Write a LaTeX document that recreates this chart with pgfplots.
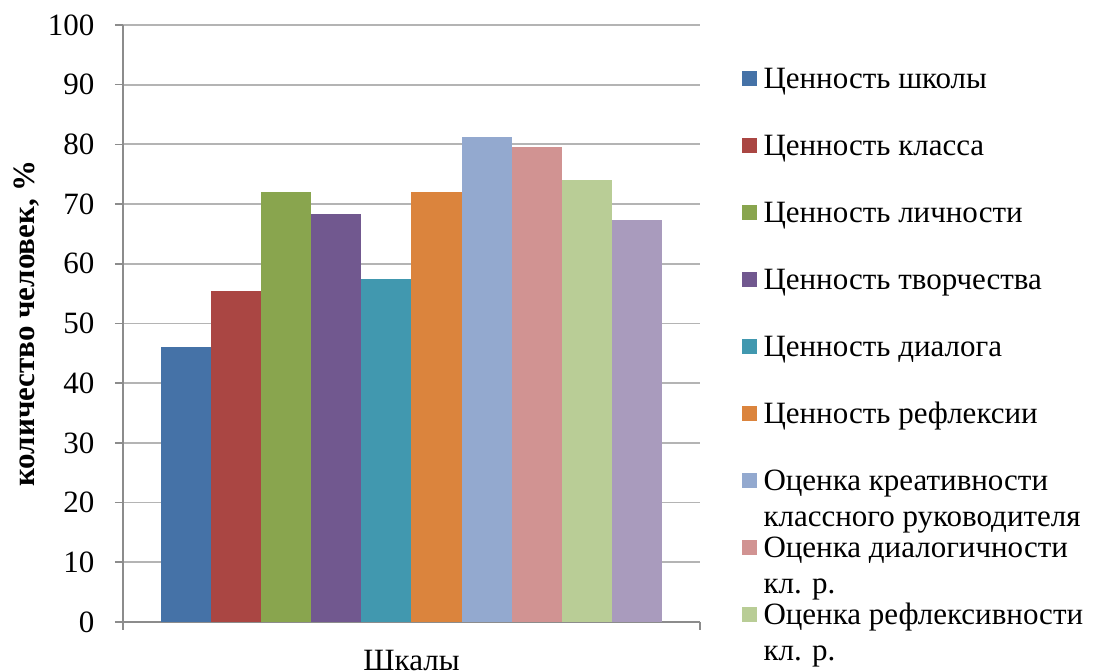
\documentclass[border=0pt]{standalone}
\usepackage{fontspec}
\setmainfont{Liberation Serif}
\usepackage{pgfplots}
\pgfplotsset{compat=1.18}

\definecolor{c1}{HTML}{4572A7}
\definecolor{c2}{HTML}{AA4643}
\definecolor{c3}{HTML}{89A54E}
\definecolor{c4}{HTML}{71588F}
\definecolor{c5}{HTML}{4198AF}
\definecolor{c6}{HTML}{DB843D}
\definecolor{c7}{HTML}{93A9CF}
\definecolor{c8}{HTML}{D19392}
\definecolor{c9}{HTML}{B9CD96}
\definecolor{c10}{HTML}{A99BBD}
\definecolor{gridgray}{HTML}{B4B4B4}
\definecolor{axisgray}{HTML}{8C8C8C}

% square legend keys instead of the default two thin bars
\pgfplotsset{/pgfplots/ybar legend/.style={/pgfplots/legend image code/.code={%
    \fill[##1] (0pt,-2.2pt) rectangle (7.25pt,5.3pt);}}}

\newcommand{\twoline}[2]{\begin{tabular}[t]{@{}l@{}}#1\\#2\end{tabular}}

\begin{document}
\fontsize{15.5}{18}\selectfont
\begin{tikzpicture}
\begin{axis}[
    name=ax,
    scale only axis,
    width=288.5pt, height=298.5pt,
    ybar=0pt, bar width=25.05pt,
    xmin=-0.5, xmax=0.5,
    ymin=0, ymax=100,
    ytick={0,10,...,100},
    xtick=\empty,
    extra x ticks={-0.5,0.5},
    extra x tick labels={},
    axis x line*=bottom,
    axis y line*=left,
    axis line style={draw=axisgray, line width=0.8pt, -},
    tick style={draw=axisgray, line width=0.8pt},
    tick align=outside,
    major tick length=4pt,
    ymajorgrids=true,
    grid style={gridgray, line width=0.9pt},
    /pgf/number format/assume math mode=true,
    yticklabel style={anchor=east, xshift=-5pt},
    ylabel={\bfseries количество человек, \%},
    every axis y label/.style={at={(axis description cs:-0.1664,0.5)}, rotate=90, anchor=center},
    xlabel={Шкалы},
    every axis x label/.style={at={(axis description cs:0.5,0)}, anchor=base, yshift=-24.5pt},
    legend cell align=left,
    legend style={at={(1,1)}, anchor=north west, xshift=21pt, yshift=-21.5pt,
        draw=none, fill=none, inner sep=0pt, outer sep=0pt,
        row sep=19.5pt, column sep=3.5pt,
        nodes={inner sep=0pt, text height=10.5pt, text depth=3.5pt}},
]
\addplot[fill=c1, draw=none] coordinates {(0,46.1)};
\addplot[fill=c2, draw=none] coordinates {(0,55.4)};
\addplot[fill=c3, draw=none] coordinates {(0,72.1)};
\addplot[fill=c4, draw=none] coordinates {(0,68.4)};
\addplot[fill=c5, draw=none] coordinates {(0,57.5)};
\addplot[fill=c6, draw=none] coordinates {(0,72.1)};
\addplot[fill=c7, draw=none] coordinates {(0,81.3)};
\addplot[fill=c8, draw=none] coordinates {(0,79.5)};
\addplot[fill=c9, draw=none] coordinates {(0,74.0)};
\addplot[fill=c10, draw=none] coordinates {(0,67.4)};
% the tenth entry does not fit in the chart area of the original
\legend{Ценность школы, Ценность класса, Ценность личности, Ценность творчества,
    Ценность диалога, Ценность рефлексии,
    {\twoline{Оценка креативности}{классного руководителя}},
    {\twoline{Оценка диалогичности}{кл. р.}},
    {\twoline{Оценка рефлексивности}{кл. р.}}}
\end{axis}
\pgfresetboundingbox
\path[use as bounding box] ([xshift=-61.5pt,yshift=-25pt]ax.south west) rectangle ([xshift=199.5pt,yshift=12.5pt]ax.north east);
\end{tikzpicture}
\end{document}
